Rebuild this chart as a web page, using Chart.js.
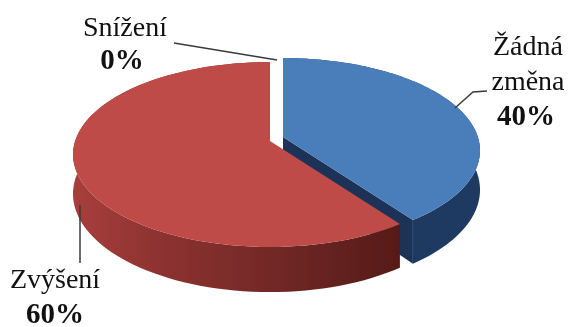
<!DOCTYPE html>
<html lang="cs">
<head>
<meta charset="utf-8">
<title>Změna</title>
<script src="https://cdn.jsdelivr.net/npm/chart.js@4"></script>
<style>
    html, body { margin: 0; background: #fff; }
    canvas { display: block; }
</style>
</head>
<body>
<canvas id="pieChart" width="568" height="327"></canvas>
<script>
const categories = ['Žádná změna', 'Zvýšení', 'Snížení'];
const values = [40, 60, 0];

const topColors = ['#4a7ebb', '#be4b48', '#9bbb59'];

// Pie tilt: each slice has its own apex because the slices are pulled apart
const apexes = [{ x: 283, y: 137 }, { x: 270, y: 141 }, { x: 277, y: 140 }];
const radiusX = 194.9;
const radiusY = 90.5;
const tilt = 0.146;
const depth = 38.5;

// Maps an angle on the flat pie to the tilted disc, w is the perspective divisor
function project(apex, angle, drop) {
    const u = Math.cos(angle);
    const up = -Math.sin(angle);
    const w = 1 + tilt * up;
    return {
        x: apex.x + radiusX * u / w,
        y: apex.y - radiusY * up / w + (drop ? depth / w : 0)
    };
}

function arcPoints(apex, start, end, drop) {
    const points = [];
    const steps = 96;
    for (let i = 0; i <= steps; i++) {
        points.push(project(apex, start + (end - start) * i / steps, drop));
    }
    return points;
}

function fillPolygon(ctx, points, fill) {
    ctx.beginPath();
    points.forEach((p, i) => (i ? ctx.lineTo(p.x, p.y) : ctx.moveTo(p.x, p.y)));
    ctx.closePath();
    ctx.fillStyle = fill;
    ctx.fill();
}

function sideFill(ctx, index) {
    if (index === 0) {
        return '#1f3a60';
    }
    const gradient = ctx.createLinearGradient(73, 0, 400, 0);
    gradient.addColorStop(0, '#a83f3c');
    gradient.addColorStop(0.25, '#8e3331');
    gradient.addColorStop(0.7, '#6b2523');
    gradient.addColorStop(1, '#551a17');
    return gradient;
}

const tiltedPie = {
    id: 'tiltedPie',
    // Replaces the flat arcs, the angles still come from the pie controller
    beforeDatasetsDraw(chart) {
        const ctx = chart.ctx;
        chart.getDatasetMeta(0).data.forEach((arc, index) => {
            const { startAngle, endAngle } = arc.getProps(['startAngle', 'endAngle'], true);
            if (endAngle - startAngle <= 0) {
                return;
            }
            const apex = apexes[index];
            const rim = arcPoints(apex, startAngle, endAngle, false);
            const rimLow = arcPoints(apex, startAngle, endAngle, true);
            const apexLow = { x: apex.x, y: apex.y + depth };

            // cut face on the trailing edge of the slice
            fillPolygon(ctx, [apex, rim[rim.length - 1], rimLow[rimLow.length - 1], apexLow],
                index === 0 ? '#1c3357' : '#551a17');
            // outer wall
            fillPolygon(ctx, rim.concat(rimLow.slice().reverse()), sideFill(ctx, index));
            // top face
            fillPolygon(ctx, [apex].concat(rim), topColors[index]);
        });
        return false;
    }
};

const leaderLines = [
    [[174, 43], [277, 60]],
    [[487, 91], [473, 92], [455, 108]],
    [[80, 205], [80, 263]]
];

const labelSpots = [
    { x: 528, y: 48, gap: 35, percentX: 526 },
    { x: 55, y: 281, gap: 35, percentX: 55 },
    { x: 125, y: 29, gap: 33, percentX: 122 }
];

const pieLabels = {
    id: 'pieLabels',
    afterDraw(chart) {
        const ctx = chart.ctx;
        ctx.save();
        ctx.strokeStyle = '#3a3a3a';
        ctx.lineWidth = 1.5;
        leaderLines.forEach(line => {
            ctx.beginPath();
            line.forEach((p, i) => (i ? ctx.lineTo(p[0], p[1]) : ctx.moveTo(p[0], p[1])));
            ctx.stroke();
        });

        ctx.fillStyle = '#111';
        ctx.textAlign = 'center';
        ctx.textBaseline = 'middle';
        categories.forEach((name, index) => {
            const spot = labelSpots[index];
            const lines = name.split(' ');
            ctx.font = '28px "Liberation Serif"';
            lines.forEach((text, i) => ctx.fillText(text, spot.x, spot.y + i * spot.gap));
            ctx.font = 'bold 29px "Liberation Serif"';
            ctx.fillText(values[index] + '%', spot.percentX, spot.y + lines.length * spot.gap);
        });
        ctx.restore();
    }
};

new Chart(document.getElementById('pieChart').getContext('2d'), {
    type: 'pie',
    data: {
        labels: categories,
        datasets: [{
            data: values,
            backgroundColor: topColors,
            borderWidth: 0
        }]
    },
    options: {
        responsive: false,
        animation: false,
        plugins: {
            legend: { display: false },
            tooltip: { enabled: false }
        }
    },
    plugins: [tiltedPie, pieLabels]
});
</script>
</body>
</html>
